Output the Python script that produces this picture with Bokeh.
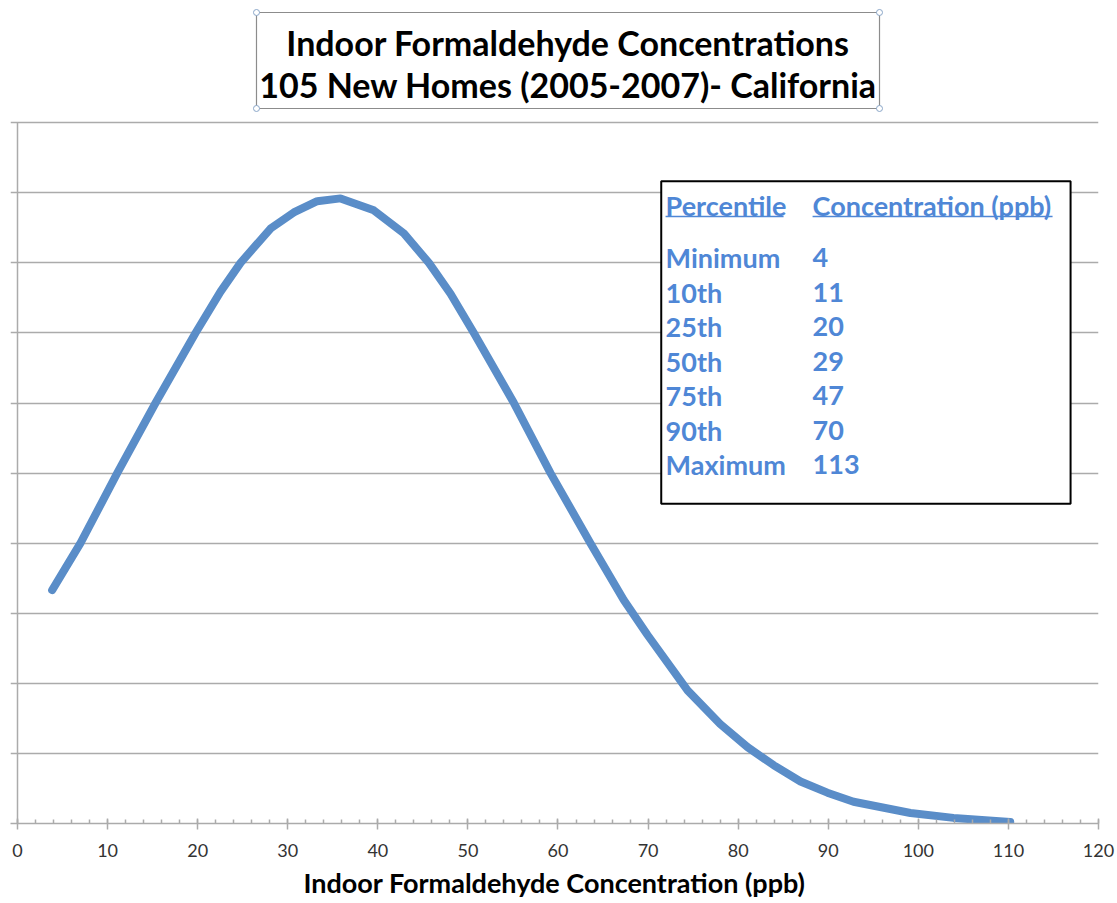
from bokeh.plotting import figure
from bokeh.models import Range1d, FixedTicker, SingleIntervalTicker, Label
from bokeh.embed import file_html
from bokeh.resources import INLINE

# ---- data ----
conc = [3.85, 6.99, 11.07, 15.32, 19.76, 22.54, 24.76, 28.09, 30.67, 33.27, 35.86,
        39.55, 42.89, 45.67, 48.07, 50.66, 55.11, 59.17, 63.6, 67.3, 69.94, 74.38,
        78.0, 81.04, 83.96, 86.92, 89.9, 92.81, 99.13, 103.9, 110.2]
density = [3.33, 4.0, 5.0, 6.0, 7.0, 7.59, 8.0, 8.49, 8.72, 8.88, 8.92,
           8.75, 8.42, 8.0, 7.56, 7.0, 6.0, 5.0, 4.0, 3.19, 2.69, 1.90,
           1.42, 1.09, 0.83, 0.60, 0.44, 0.31, 0.15, 0.08, 0.02]

percentiles = ["Minimum", "10th", "25th", "50th", "75th", "90th", "Maximum"]
concentrations = [4, 11, 20, 29, 47, 70, 113]
table_headers = ["Percentile", "Concentration (ppb)"]

title_lines = ["Indoor Formaldehyde Concentrations",
               "105 New Homes (2005-2007)- California"]
x_label = "Indoor Formaldehyde Concentration (ppb)"
y_gridlines = list(range(0, 11))

# ---- styling / layout ----
FONT = "Lato"
BLUE_LINE = "#5a8dc8"
BLUE_TXT = "#4f87d6"
GRID = "#ababab"
X_START = -0.777
Y_TOP = 11.744

p = figure(width=1117, height=903, x_range=Range1d(X_START, 120), y_range=Range1d(0, Y_TOP),
           output_backend="svg", toolbar_location=None, title=None, y_axis_location=None,
           min_border_left=10, min_border_right=19, min_border_top=0, min_border_bottom=80,
           background_fill_color="white", border_fill_color="white")
p.outline_line_color = None

# x axis
xa = p.xaxis[0]
xa.ticker = SingleIntervalTicker(interval=10, num_minor_ticks=5)
xa.axis_line_color = GRID
xa.axis_line_width = 1.5
xa.major_tick_line_color = GRID
xa.major_tick_line_width = 1.5
xa.minor_tick_line_color = GRID
xa.minor_tick_line_width = 1.5
xa.major_tick_in = 5
xa.major_tick_out = 6
xa.minor_tick_in = 4
xa.minor_tick_out = 0
xa.major_label_text_font = FONT
xa.major_label_text_font_size = "18px"
xa.major_label_text_color = "#333333"
xa.major_label_standoff = 14
xa.axis_label = x_label
xa.axis_label_text_font = FONT
xa.axis_label_text_font_size = "27px"
xa.axis_label_text_font_style = "bold"
xa.axis_label_text_color = "black"
xa.axis_label_standoff = 6

# y gridlines (they also serve as the left ticks) and y axis line
p.xgrid.visible = False
p.ygrid.ticker = FixedTicker(ticks=y_gridlines, minor_ticks=[])
p.ygrid.grid_line_color = GRID
p.ygrid.grid_line_width = 1.5
p.segment(x0=[0], x1=[0], y0=[min(y_gridlines)], y1=[max(y_gridlines)],
          line_color=GRID, line_width=1.5)

# curve
p.line(conc, density, line_color=BLUE_LINE, line_width=8, line_cap="round", line_join="round")

# title box
p.quad(left=[26.53], right=[95.69], bottom=[10.203], top=[11.573],
       fill_color="white", line_color="#8c8c8c", line_width=1.2)
p.scatter([26.53, 95.69, 26.53, 95.69], [11.573, 11.573, 10.203, 10.203], size=6,
          fill_color="white", line_color="#8aa6c8", line_width=1)
for line, yy in zip(title_lines, [11.14, 10.55]):
    p.add_layout(Label(x=61.11, y=yy, text=line, text_align="center", text_baseline="middle",
                       text_font=FONT, text_font_style="bold", text_font_size="34px",
                       text_color="black"))

# percentile table
p.quad(left=[71.46], right=[116.9], bottom=[4.562], top=[9.165],
       fill_color="white", line_color="black", line_width=2)
col_x = [71.94, 88.26]
hdr_y = 8.82
for hx, h in zip(col_x, table_headers):
    p.add_layout(Label(x=hx, y=hdr_y, text=h, text_align="left", text_baseline="middle",
                       text_font=FONT, text_font_style="bold", text_font_size="27px",
                       text_color=BLUE_TXT))
p.segment(x0=[71.94, 88.26], x1=[85.04, 114.9], y0=[8.66, 8.66], y1=[8.66, 8.66],
          line_color=BLUE_TXT, line_width=1.5)
row0, step = 8.07, 0.492
for i, (name, c) in enumerate(zip(percentiles, concentrations)):
    yy = row0 - i * step
    p.add_layout(Label(x=col_x[0], y=yy, text=name, text_align="left", text_baseline="middle",
                       text_font=FONT, text_font_style="bold", text_font_size="27px",
                       text_color=BLUE_TXT))
    p.add_layout(Label(x=col_x[1], y=yy, text=str(c), text_align="left", text_baseline="middle",
                       text_font=FONT, text_font_style="bold", text_font_size="27px",
                       text_color=BLUE_TXT))

open("out.html", "w").write(file_html(p, INLINE))
